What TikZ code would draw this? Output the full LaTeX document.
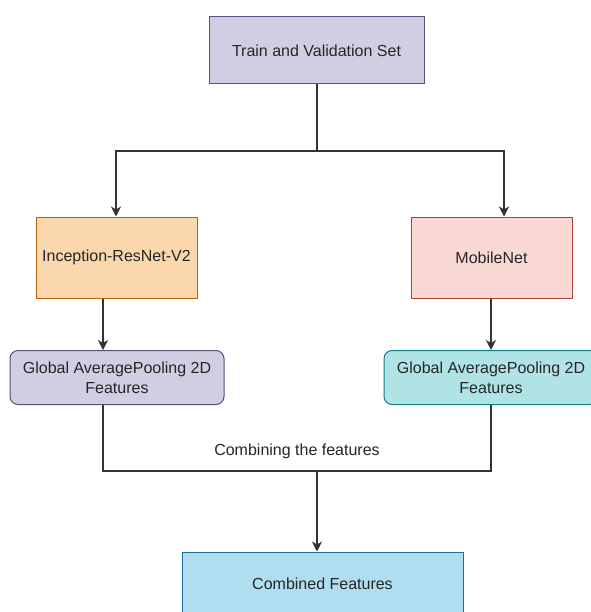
\documentclass[tikz,border=0pt]{standalone}
\usepackage{fontspec}
\setmainfont{Liberation Sans}
\usetikzlibrary{arrows.meta}
\definecolor{purpleFill}{HTML}{D0CEE2}
\definecolor{purpleLine}{HTML}{56517E}
\definecolor{orangeFill}{HTML}{FAD7AC}
\definecolor{orangeLine}{HTML}{B46504}
\definecolor{redFill}{HTML}{FAD9D5}
\definecolor{redLine}{HTML}{AE4132}
\definecolor{tealFill}{HTML}{B0E3E6}
\definecolor{tealLine}{HTML}{0E8088}
\definecolor{blueFill}{HTML}{B1DDF0}
\definecolor{blueLine}{HTML}{10739E}
\tikzset{
  box/.style={draw, line width=1pt, inner sep=0pt, align=center,
    font=\fontsize{16}{20}\selectfont, text=black!85},
  flow/.style={line width=1.2pt, draw=black!80},
  arr/.style={flow, -{Stealth[length=10pt,width=10pt,inset=3pt]}},
}
\begin{document}
\begin{tikzpicture}[x=1pt,y=-1pt]
\useasboundingbox (0,0) rectangle (590,612);
\fill[white] (0,0) rectangle (590,612);

% top input box
\node[box, fill=purpleFill, draw=purpleLine, minimum width=215pt, minimum height=67pt]
  (data) at (316.5,50.5) {Train and Validation Set};

% backbone networks
\node[box, fill=orangeFill, draw=orangeLine, minimum width=161pt, minimum height=81pt]
  (incep) at (116.5,257.5) {Inception-ResNet-V2};
\node[box, fill=redFill, draw=redLine, minimum width=161pt, minimum height=81pt]
  (mobile) at (491.5,257.5) {MobileNet};

% pooled feature boxes
\node[box, rounded corners=8pt, fill=purpleFill, draw=purpleLine, minimum width=214pt, minimum height=54pt]
  (poolL) at (117,377.5) {Global AveragePooling 2D\\Features};
\node[box, rounded corners=8pt, fill=tealFill, draw=tealLine, minimum width=214pt, minimum height=54pt]
  (poolR) at (491,377.5) {Global AveragePooling 2D\\Features};

% output box
\node[box, fill=blueFill, draw=blueLine, minimum width=281pt, minimum height=64pt]
  (comb) at (322.5,584) {Combined Features};

% junction points
\coordinate (fork) at (317,151);
\coordinate (forkL) at (116,151);
\coordinate (forkR) at (504,151);
\coordinate (joinL) at (103,471);
\coordinate (joinR) at (491,471);
\coordinate (join) at (317,471);

% split to both networks
\draw[flow] (data.south -| fork) -- (fork);
\draw[arr] (fork) -- (forkL) -- (forkL |- incep.north);
\draw[arr] (fork) -- (forkR) -- (forkR |- mobile.north);

% networks to pooling
\draw[arr] (incep.south -| joinL) -- (poolL.north -| joinL);
\draw[arr] (mobile.south -| joinR) -- (poolR.north -| joinR);

% merge of the features
\draw[flow] (poolL.south -| joinL) -- (joinL) -- (joinR) -- (poolR.south -| joinR);
\draw[arr] (join) -- (comb.north -| join);
\node[font=\fontsize{16}{20}\selectfont, text=black!85] (lbl) at (297,451) {Combining the features};
\end{tikzpicture}
\end{document}
